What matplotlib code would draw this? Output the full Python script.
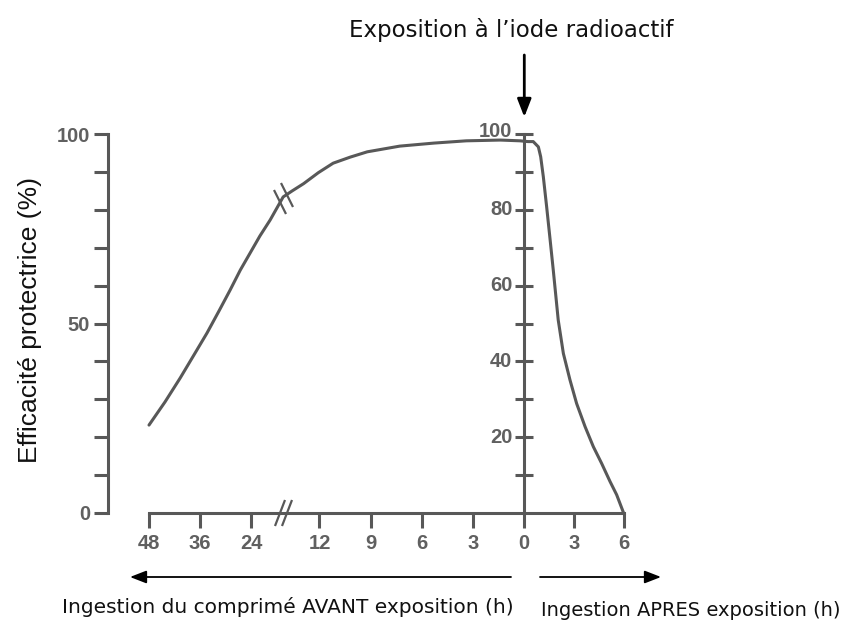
"""
Protective efficacy of potassium iodide vs. time of intake relative to
exposure to radioactive iodine (broken time axis before exposure).
"""

import numpy as np
import matplotlib
matplotlib.use('Agg')
import matplotlib.pyplot as plt
from matplotlib.markers import MarkerStyle
from matplotlib.ticker import NullLocator
from matplotlib.transforms import Affine2D

# --- data ---
# hours relative to exposure (negative = intake before exposure)
hours = [-48, -44.25, -40.7, -37.2, -34.4, -31.6, -29.0, -26.6, -24.3, -22.5,
         -20.7, -18.4, -16.8, -14.8, -12.2, -11.2, -10.2, -9.2, -7.3, -5.3,
         -3.4, -1.4, -0.25, 0.22, 0.54, 0.85, 0.99, 1.15, 1.35, 1.55, 1.75,
         2.05, 2.36, 2.76, 3.16, 3.67, 4.17, 4.67, 5.18, 5.58, 6]
efficacy = [23.2, 29.3, 35.6, 42.2, 47.5, 53.3, 58.8, 64.1, 68.6, 73.1,
            77.3, 83.4, 85.0, 86.9, 89.8, 92.3, 93.9, 95.3, 96.8, 97.6,
            98.2, 98.4, 98.2, 98.0, 98.0, 96.6, 94.0, 88.7, 80.8, 72.5, 64.1,
            50.9, 42.1, 35.1, 28.9, 22.8, 17.5, 13.1, 8.3, 4.8, 0]

x_ticks = [-48, -36, -24, -12, -9, -6, -3, 0, 3, 6]
x_tick_labels = ['48', '36', '24', '12', '9', '6', '3', '0', '3', '6']
left_major = [0, 50, 100]
left_minor = list(range(0, 101, 10))
center_ticks = list(range(10, 101, 10))
center_labels = [20, 40, 60, 80, 100]

# break marks ("//") on the curve and on the time axis
curve_break_h = [-19.0, -17.8]
curve_break_v = [82.0, 84.0]
axis_break_h = [-19.0, -17.8]

# broken time axis: 12 h per step before -24 h, 3 h per step after -12 h
scale_hours = [-60, -48, -24, -12, 0, 6, 12]
scale_steps = [-1, 0, 2, 3.33, 7.33, 9.27, 11.21]


def fwd(h):
    return np.interp(h, scale_hours, scale_steps)


def inv(u):
    return np.interp(u, scale_steps, scale_hours)


W, H = 842, 621
GRAY = '#585858'
LABEL_GRAY = '#606060'
TICK_FONT = ['Liberation Sans Narrow', 'Liberation Sans', 'DejaVu Sans']


def fx(px):
    return px / W


def fy(py):
    return 1 - py / H


plt.rcParams['font.family'] = ['DejaVu Sans']

fig = plt.figure(figsize=(W / 100, H / 100), dpi=100)
ax = fig.add_axes([fx(108), fy(513), (670 - 108) / W, (513 - 134) / H])
ax.set_xscale('function', functions=(fwd, inv))
ax.set_xlim(inv((108 - 149) / 51.2), inv((670 - 149) / 51.2))
ax.set_ylim(0, 100)

# curve
ax.plot(hours, efficacy, color=GRAY, linewidth=2.2,
        solid_capstyle='round', solid_joinstyle='round', clip_on=False)

# spines
for side in ('top', 'right'):
    ax.spines[side].set_visible(False)
for side in ('left', 'bottom'):
    ax.spines[side].set_linewidth(2.2)
    ax.spines[side].set_color(GRAY)
ax.spines['left'].set_bounds(0, 100)
ax.spines['bottom'].set_bounds(-48, 6)

# ticks
ax.set_xticks(x_ticks)
ax.set_xticklabels(x_tick_labels)
ax.xaxis.set_minor_locator(NullLocator())
ax.set_yticks(left_major)
ax.set_yticks(left_minor, minor=True)
ax.tick_params(axis='x', length=11, width=2.2, pad=4, color=GRAY,
               labelsize=14.5, labelcolor=LABEL_GRAY)
ax.tick_params(axis='y', which='both', length=10, width=2.2, pad=3,
               color=GRAY, labelsize=14.5, labelcolor=LABEL_GRAY)
for lbl in ax.get_xticklabels() + ax.get_yticklabels():
    lbl.set_fontfamily(TICK_FONT)
    lbl.set_fontweight('bold')

# central axis at exposure time
ax.plot([0, 0], [0, 100], color=GRAY, linewidth=2.2, clip_on=False)
ax.plot([0] * len(center_ticks), center_ticks, linestyle='none', marker='_',
        markersize=13, markeredgewidth=2.2, color=GRAY, clip_on=False)
for v in center_labels:
    ax.annotate(str(v), (0, v), xytext=(-8.5, 2 if v == 100 else 0),
                textcoords='offset points', ha='right', va='center',
                fontsize=14.5, fontweight='bold', color=LABEL_GRAY,
                family=TICK_FONT)

# break marks
ax.plot(curve_break_h, curve_break_v, linestyle='none',
        marker=MarkerStyle('|', transform=Affine2D().rotate_deg(27)),
        markersize=19, markeredgewidth=1.6, color=GRAY, clip_on=False)
ax.plot(axis_break_h, [0] * len(axis_break_h), linestyle='none',
        marker=MarkerStyle('|', transform=Affine2D().rotate_deg(-21)),
        markersize=20, markeredgewidth=1.6, color=GRAY, clip_on=False)

# annotations
fig.text(fx(511), fy(30), 'Exposition à l’iode radioactif',
         ha='center', va='center', fontsize=16.5, color='#111111')
ax.annotate('', xy=(0, fy(117)), xytext=(0, fy(55)),
            xycoords=('data', 'figure fraction'),
            textcoords=('data', 'figure fraction'),
            arrowprops=dict(arrowstyle='-|>,head_length=0.9,head_width=0.35',
                            color='black', lw=2, mutation_scale=12,
                            shrinkA=0, shrinkB=0),
            annotation_clip=False)

fig.text(fx(30), fy(320), 'Efficacité protectrice (%)', rotation=90,
         ha='center', va='center', fontsize=19, color='#111111',
         family=['Liberation Sans', 'DejaVu Sans'])

arrow = dict(arrowstyle='-|>,head_length=0.9,head_width=0.35',
             color='black', lw=1.3, mutation_scale=11, shrinkA=0, shrinkB=0)
fig.add_artist(plt.Annotation('', xy=(fx(130), fy(577)),
                              xytext=(fx(511), fy(577)),
                              xycoords='figure fraction',
                              arrowprops=arrow))
fig.add_artist(plt.Annotation('', xy=(fx(661), fy(577)),
                              xytext=(fx(540), fy(577)),
                              xycoords='figure fraction',
                              arrowprops=arrow))

fig.text(fx(62), fy(607), 'Ingestion du comprimé AVANT exposition (h)',
         ha='left', va='center', fontsize=14.5, color='#111111')
fig.text(fx(541), fy(610), 'Ingestion APRES exposition (h)',
         ha='left', va='center', fontsize=14, color='#111111')

fig.savefig('out.png', dpi=100, facecolor='white')
